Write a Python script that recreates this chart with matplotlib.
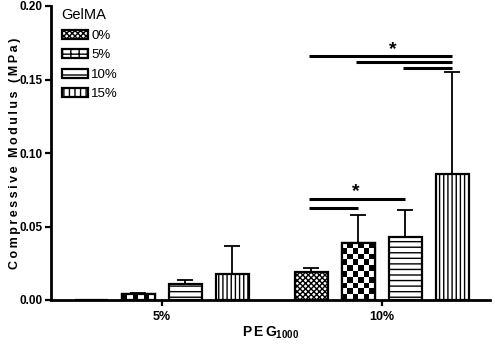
import numpy as np
import matplotlib.pyplot as plt
from matplotlib.patches import Patch

plt.rcParams['font.family'] = ['Liberation Sans', 'DejaVu Sans']
plt.rcParams['mathtext.fontset'] = 'custom'
plt.rcParams['mathtext.bf'] = 'Liberation Sans:bold'
plt.rcParams['mathtext.rm'] = 'Liberation Sans:bold'
plt.rcParams['hatch.linewidth'] = 1.0

# data
peg_labels = ['5%', '10%']
gelma_labels = ['0%', '5%', '10%', '15%']
means = [
    [0.000, 0.019],   # GelMA 0%
    [0.004, 0.039],   # GelMA 5%
    [0.011, 0.043],   # GelMA 10%
    [0.018, 0.086],   # GelMA 15%
]
errs = [
    [0.000, 0.003],
    [0.001, 0.019],
    [0.0026, 0.018],
    [0.019, 0.069],
]
hatches = ['xxxxxx', None, '---', '||||']
legend_hatches = ['xxxxxx', '++', '-', '|||']

# significance lines in the 10% group: (bar a, bar b, height)
sig_lines = [(0, 2, 0.0687), (0, 1, 0.0626), (0, 3, 0.166), (1, 3, 0.162), (2, 3, 0.158)]
stars = [(-0.55, 0.0735), (0.23, 0.1705)]   # offset from group center in bar units, height

group_x = np.array([0.0, 4.68])
offsets = np.array([-1.5, -0.5, 0.5, 1.5])
width = 0.7

fig = plt.figure(figsize=(4.95, 3.44), dpi=100)
ax = fig.add_axes([51 / 495, 44 / 344, 439 / 495, 294 / 344])
ax.set_xlim(-2.36, 6.98)
ax.set_ylim(0, 0.2)

for i in range(4):
    xs = group_x + offsets[i]
    bars = ax.bar(xs, means[i], width, facecolor='white', edgecolor='black',
                  linewidth=1.6, hatch=hatches[i], zorder=3)
    if hatches[i] is None:
        # checkerboard fill, clipped to each bar
        for b in bars:
            bb = b.get_window_extent()
            cols = 6
            rows = max(1, int(round(bb.height / (bb.width / cols))))
            img = np.indices((rows, cols)).sum(axis=0) % 2
            x0, y0 = b.get_x(), b.get_y()
            im = ax.imshow(img, cmap='gray', extent=[x0, x0 + b.get_width(), y0, y0 + b.get_height()],
                           aspect='auto', origin='lower', interpolation='nearest', zorder=3.5)
            im.set_clip_path(b)
        ax.bar(xs, means[i], width, facecolor='none', edgecolor='black', linewidth=1.6, zorder=4)
    lower = np.zeros(len(means[i]))
    ax.errorbar(xs, means[i], yerr=[lower, errs[i]], fmt='none', ecolor='black',
                elinewidth=1.3, capsize=6, capthick=1.3, zorder=2)

for a, b, y in sig_lines:
    ax.plot([group_x[1] + offsets[a] - 0.05, group_x[1] + offsets[b]], [y, y],
            color='black', lw=2.2, solid_capstyle='butt', zorder=5)
for dx, y in stars:
    ax.text(group_x[1] + dx, y, '*', ha='center', va='center', fontsize=14, fontweight='bold')

ax.set_xlim(-2.36, 6.98)
ax.set_ylim(0, 0.2)
ax.set_yticks([0.0, 0.05, 0.10, 0.15, 0.20])
ax.set_yticklabels(['0.00', '0.05', '0.10', '0.15', '0.20'], fontweight='bold', fontsize=8.5)
ax.set_xticks(group_x)
ax.set_xticklabels(peg_labels, fontweight='bold', fontsize=9)
ax.tick_params(axis='both', width=1.6, length=4, direction='out', pad=2)
ax.tick_params(axis='x', pad=4)
for s in ['top', 'right']:
    ax.spines[s].set_visible(False)
for s in ['left', 'bottom']:
    ax.spines[s].set_linewidth(2)

ax.set_ylabel('\u2009'.join('Compressive Modulus (MPa)'), fontweight='bold', fontsize=9)
ax.yaxis.set_label_coords(-30 / 439, 0.5)
ax.set_xlabel(r'$\mathbf{P\,E\,G_{1000}}$', fontsize=10, labelpad=1)

handles = [Patch(facecolor='white', edgecolor='black', hatch=h, linewidth=1.6) for h in legend_hatches]
leg = ax.legend(handles, gelma_labels, title='GelMA', loc='upper left', bbox_to_anchor=(0.012, 1.01),
                frameon=False, fontsize=9.5, title_fontsize=10.5, handlelength=2.0, handleheight=0.7,
                labelspacing=0.55, handletextpad=0.25, borderaxespad=0, alignment='left')

fig.savefig('out.png', dpi=100)
